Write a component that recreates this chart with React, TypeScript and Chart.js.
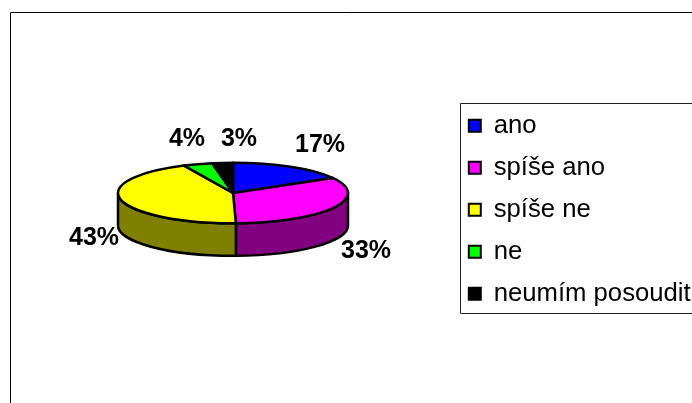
import React, { useEffect, useRef } from "react";
import { Chart, registerables } from "chart.js";

Chart.register(...registerables);

const categories = ["ano", "spíše ano", "spíše ne", "ne", "neumím posoudit"];
const values = [16.7, 32.9, 43.4, 4.1, 2.9];
const topColors = ["#0000FF", "#FF00FF", "#FFFF00", "#00FF00", "#000000"];
const sideColors = ["#000080", "#800080", "#808000", "#008000", "#000000"];
// label centre relative to the pie hub
const labelOffsets = [
  [87, -47.5],
  [133, 58],
  [-139, 45.5],
  [-46, -53.5],
  [6, -54],
];
const FLATTEN = 30.3 / 115;
const DEPTH = 32.5;
const FONT = '"Liberation Sans", Arial, sans-serif';

const pie3d = {
  id: "pie3d",
  afterLayout(chart: any) {
    const lg = chart.legend;
    lg.left = 452.5;
    lg.right = 692;
    lg.top = 96.5;
    lg.bottom = 400;
  },
  beforeDraw(chart: any) {
    const { ctx, width, height } = chart;
    ctx.save();
    ctx.fillStyle = "#fff";
    ctx.fillRect(0, 0, width, height);
    // outer chart frame
    ctx.strokeStyle = "#000";
    ctx.lineWidth = 1;
    ctx.beginPath();
    ctx.moveTo(10.5, height);
    ctx.lineTo(10.5, 12.5);
    ctx.lineTo(width, 12.5);
    ctx.stroke();
    // legend frame
    ctx.strokeStyle = "#222";
    ctx.beginPath();
    ctx.moveTo(width, 103.5);
    ctx.lineTo(460.5, 103.5);
    ctx.lineTo(460.5, 313.5);
    ctx.lineTo(width, 313.5);
    ctx.stroke();
    ctx.restore();
  },
  beforeDatasetsDraw(chart: any) {
    const { ctx } = chart;
    const arcs = chart.getDatasetMeta(0).data;
    ctx.save();
    ctx.lineWidth = 2.5;
    ctx.lineJoin = "round";
    ctx.strokeStyle = "#000";
    arcs.forEach((arc: any, i: number) => {
      const { x, y, startAngle, endAngle, outerRadius } = arc.getProps(
        ["x", "y", "startAngle", "endAngle", "outerRadius"],
        true
      );
      const a0 = Math.max(startAngle, 0);
      const a1 = Math.min(endAngle, Math.PI);
      if (a1 <= a0) return;
      const ry = outerRadius * FLATTEN;
      ctx.beginPath();
      ctx.ellipse(x, y, outerRadius, ry, 0, a0, a1);
      ctx.ellipse(x, y + DEPTH, outerRadius, ry, 0, a1, a0, true);
      ctx.closePath();
      ctx.fillStyle = sideColors[i];
      ctx.fill();
      ctx.stroke();
    });
    arcs.forEach((arc: any, i: number) => {
      const { x, y, startAngle, endAngle, outerRadius } = arc.getProps(
        ["x", "y", "startAngle", "endAngle", "outerRadius"],
        true
      );
      ctx.beginPath();
      ctx.moveTo(x, y);
      ctx.ellipse(x, y, outerRadius, outerRadius * FLATTEN, 0, startAngle, endAngle);
      ctx.closePath();
      ctx.fillStyle = topColors[i];
      ctx.fill();
      ctx.stroke();
    });
    ctx.fillStyle = "#000";
    ctx.font = `bold 25px ${FONT}`;
    ctx.textAlign = "center";
    ctx.textBaseline = "middle";
    arcs.forEach((arc: any, i: number) => {
      const { x, y } = arc.getProps(["x", "y"], true);
      ctx.fillText(`${Math.round(values[i])}%`, x + labelOffsets[i][0], y + labelOffsets[i][1]);
    });
    ctx.restore();
    return false;
  },
};

export default function App() {
  const ref = useRef<HTMLCanvasElement>(null);
  useEffect(() => {
    const chart = new Chart(ref.current as HTMLCanvasElement, {
      type: "pie",
      data: {
        labels: categories,
        datasets: [
          {
            data: values,
            backgroundColor: topColors,
            borderColor: "#000",
            borderWidth: 2,
          },
        ],
      },
      options: {
        responsive: false,
        animation: false,
        layout: { padding: { left: 117, right: 343, top: 77, bottom: 94 } },
        plugins: {
          tooltip: { enabled: false },
          title: { display: false },
          legend: {
            position: "chartArea",
            align: "start",
            labels: {
              boxWidth: 12,
              boxHeight: 12,
              padding: 16.3,
              color: "#000",
              font: { family: FONT, size: 25.7 },
            },
          },
        },
      },
      plugins: [pie3d],
    } as any);
    return () => chart.destroy();
  }, []);
  return (
    <canvas
      ref={ref}
      width={692}
      height={403}
      style={{ position: "absolute", left: 0, top: 0, display: "block" }}
    />
  );
}
